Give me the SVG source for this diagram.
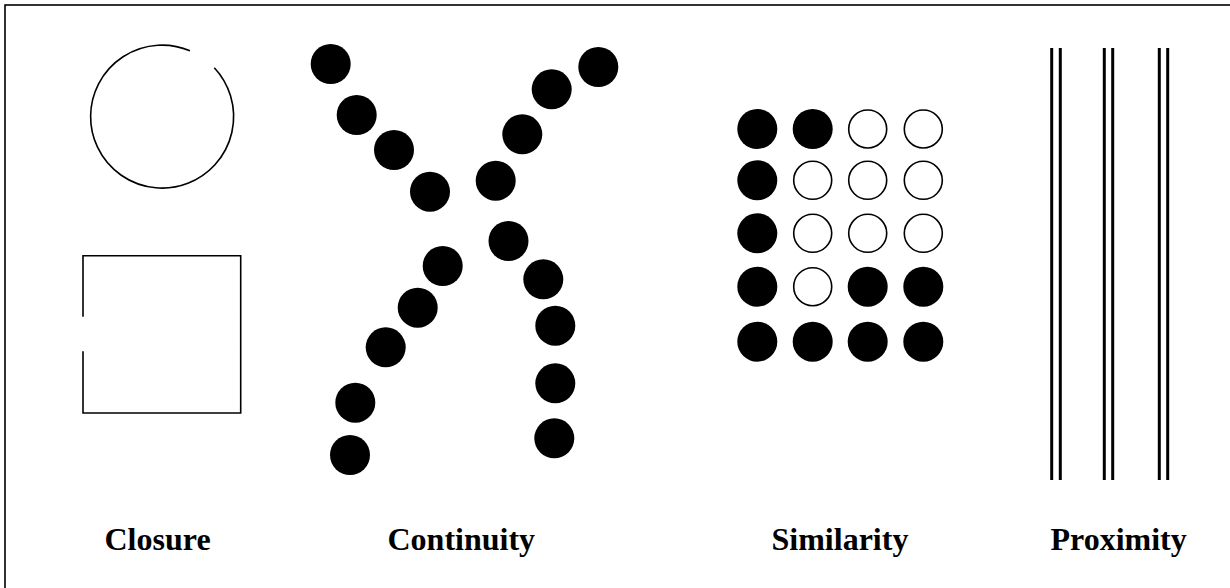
<svg xmlns="http://www.w3.org/2000/svg" width="1230" height="588" viewBox="0 0 1230 588">
<style>
.line{fill:none;stroke:#000;stroke-width:1.6}
.dot{fill:#000}
.ring{fill:#fff;stroke:#000;stroke-width:1.6}
.bar{stroke:#000;stroke-width:3}
.lbl{font-family:"Liberation Serif","Times New Roman",serif;font-weight:bold;font-size:32px;fill:#000}
</style>
<rect width="1230" height="588" fill="#fff"/>
<rect x="5" y="5" width="1240" height="600" class="line"/>
<g id="closure">
<path class="line" d="M214.3,67.7 A71.5,71.5 0 1 1 189.9,50.7"/>
<path class="line" d="M83,316.7 V255.7 H240.7 V413 H83 V351.3"/>
</g>
<g id="continuity">
<circle class="dot" cx="330.7" cy="64" r="20"/>
<circle class="dot" cx="356.7" cy="115" r="20"/>
<circle class="dot" cx="394" cy="150" r="20"/>
<circle class="dot" cx="430" cy="191.7" r="20"/>
<circle class="dot" cx="598.3" cy="67" r="20"/>
<circle class="dot" cx="551.7" cy="89.3" r="20"/>
<circle class="dot" cx="522.3" cy="134.3" r="20"/>
<circle class="dot" cx="495.7" cy="180.7" r="20"/>
<circle class="dot" cx="508.5" cy="241" r="20"/>
<circle class="dot" cx="442.7" cy="266" r="20"/>
<circle class="dot" cx="417.7" cy="307.7" r="20"/>
<circle class="dot" cx="385.7" cy="347.3" r="20"/>
<circle class="dot" cx="355.3" cy="402.7" r="20"/>
<circle class="dot" cx="350" cy="455" r="20"/>
<circle class="dot" cx="543.3" cy="279.3" r="20"/>
<circle class="dot" cx="555.3" cy="325.7" r="20"/>
<circle class="dot" cx="555.3" cy="383.3" r="20"/>
<circle class="dot" cx="554.3" cy="438.3" r="20"/>
</g>
<g id="similarity">
<circle class="dot" cx="757.3" cy="129" r="20"/>
<circle class="dot" cx="812.7" cy="129" r="20"/>
<circle class="ring" cx="867.7" cy="129" r="19"/>
<circle class="ring" cx="923.3" cy="129" r="19"/>
<circle class="dot" cx="757.3" cy="180.3" r="20"/>
<circle class="ring" cx="812.7" cy="180.3" r="19"/>
<circle class="ring" cx="867.7" cy="180.3" r="19"/>
<circle class="ring" cx="923.3" cy="180.3" r="19"/>
<circle class="dot" cx="757.3" cy="233.3" r="20"/>
<circle class="ring" cx="812.7" cy="233.3" r="19"/>
<circle class="ring" cx="867.7" cy="233.3" r="19"/>
<circle class="ring" cx="923.3" cy="233.3" r="19"/>
<circle class="dot" cx="757.3" cy="286.7" r="20"/>
<circle class="ring" cx="812.7" cy="286.7" r="19"/>
<circle class="dot" cx="867.7" cy="286.7" r="20"/>
<circle class="dot" cx="923.3" cy="286.7" r="20"/>
<circle class="dot" cx="757.3" cy="341.7" r="20"/>
<circle class="dot" cx="812.7" cy="341.7" r="20"/>
<circle class="dot" cx="867.7" cy="341.7" r="20"/>
<circle class="dot" cx="923.3" cy="341.7" r="20"/>
</g>
<g id="proximity">
<line class="bar" x1="1051.7" y1="48" x2="1051.7" y2="480"/>
<line class="bar" x1="1060.3" y1="48" x2="1060.3" y2="480"/>
<line class="bar" x1="1104.3" y1="48" x2="1104.3" y2="480"/>
<line class="bar" x1="1112.7" y1="48" x2="1112.7" y2="480"/>
<line class="bar" x1="1159.3" y1="48" x2="1159.3" y2="480"/>
<line class="bar" x1="1167.7" y1="48" x2="1167.7" y2="480"/>
</g>
<g id="labels">
<text class="lbl" x="104.5" y="550">Closure</text>
<text class="lbl" x="387.5" y="550">Continuity</text>
<text class="lbl" x="771.5" y="550">Similarity</text>
<text class="lbl" x="1050.5" y="550">Proximity</text>
</g>
</svg>
